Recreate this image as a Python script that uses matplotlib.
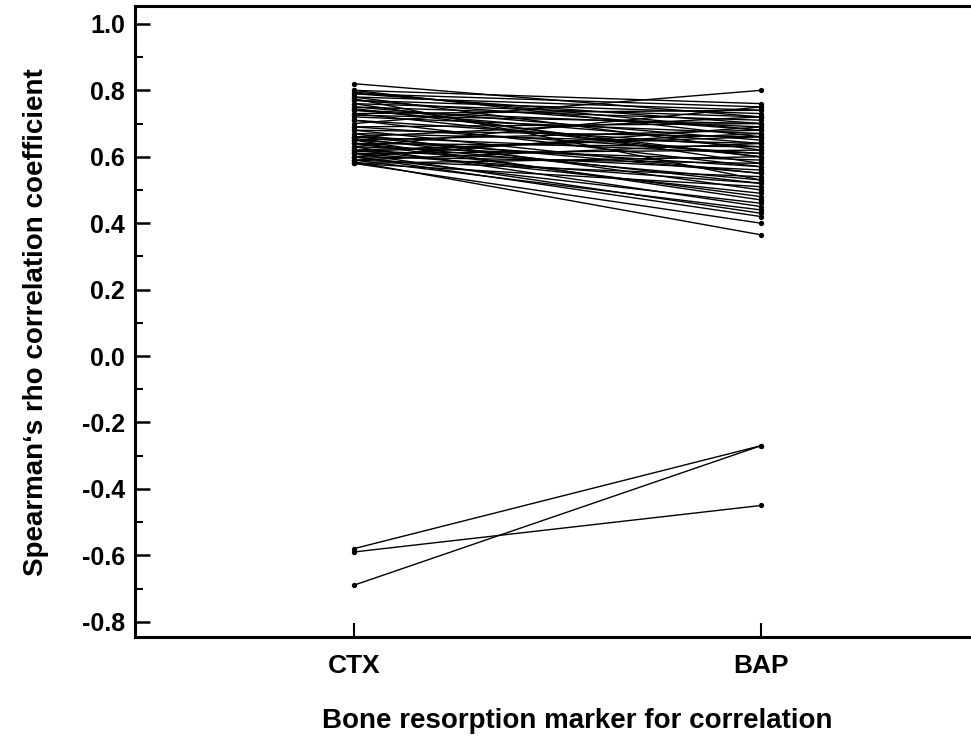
import matplotlib.pyplot as plt
import numpy as np

plt.rcParams['font.family'] = ['Liberation Sans', 'DejaVu Sans']

markers = ['CTX', 'BAP']

# rho for CTX and BAP, one pair per subject
ctx = [0.82, 0.80, 0.80, 0.79, 0.79, 0.78, 0.78, 0.77, 0.77, 0.76, 0.76, 0.75, 0.75, 0.74,
       0.73, 0.73, 0.72, 0.71, 0.70, 0.69, 0.68, 0.68, 0.67, 0.67, 0.66, 0.66, 0.65, 0.65,
       0.65, 0.64, 0.64, 0.63, 0.63, 0.63, 0.62, 0.62, 0.62, 0.61, 0.61, 0.61, 0.60, 0.60,
       0.60, 0.59, 0.59, 0.59, 0.58, 0.58, 0.58, 0.585, 0.60, 0.64, 0.66, 0.69, 0.71, 0.74,
       0.795, 0.775, 0.745, 0.725, 0.655, 0.615,
       -0.58, -0.59, -0.69]
bap = [0.72, 0.76, 0.66, 0.75, 0.70, 0.74, 0.62, 0.73, 0.68, 0.72, 0.58, 0.71, 0.65, 0.69,
       0.74, 0.60, 0.67, 0.63, 0.80, 0.70, 0.66, 0.55, 0.64, 0.50, 0.72, 0.61, 0.68, 0.57,
       0.47, 0.63, 0.53, 0.75, 0.59, 0.45, 0.66, 0.56, 0.49, 0.62, 0.52, 0.43, 0.69, 0.58,
       0.46, 0.64, 0.54, 0.44, 0.60, 0.51, 0.40, 0.365, 0.42, 0.48, 0.55, 0.61, 0.57, 0.64,
       0.68, 0.53, 0.60, 0.70, 0.52, 0.67,
       -0.27, -0.45, -0.27]
yticks = [-0.8, -0.6, -0.4, -0.2, 0.0, 0.2, 0.4, 0.6, 0.8, 1.0]
yticklabels = ['-0.8', '-0.6', '-0.4', '-0.2', '0.0', '0.2', '0.4', '0.6', '0.8', '1.0']

fig = plt.figure(figsize=(9.71, 7.42), dpi=100)
ax = fig.add_axes([0.139, 0.1415, 0.910, 0.850])

x = np.array([1, 2])
for a, b in zip(ctx, bap):
    ax.plot(x, [a, b], color='black', lw=1.0, marker='o', ms=2.8, mec='black', mfc='black')

ax.set_xlim(0.462, 2.633)
ax.set_ylim(-0.846, 1.053)
ax.set_xticks(x)
ax.set_xticklabels(markers)
ax.set_yticks(yticks)
ax.set_yticklabels(yticklabels)
ax.set_yticks(np.arange(-0.7, 1.0, 0.2), minor=True)

for s in ['left', 'bottom', 'top']:
    ax.spines[s].set_linewidth(2.2)
ax.spines['right'].set_visible(False)

ax.tick_params(axis='y', which='major', direction='in', length=11, width=1.8, pad=7, labelsize=18)
ax.tick_params(axis='y', which='minor', direction='in', length=6, width=1.5)
ax.tick_params(axis='x', which='major', direction='in', length=10, width=1.5, pad=12, labelsize=19)
for t in ax.get_yticklabels() + ax.get_xticklabels():
    t.set_fontweight('bold')

ax.set_ylabel('Spearman‘s rho correlation coefficient', fontsize=20, fontweight='bold', labelpad=24)
ax.set_xlabel('Bone resorption marker for correlation', fontsize=20, fontweight='bold', labelpad=22)

plt.savefig('out.png', dpi=100)
